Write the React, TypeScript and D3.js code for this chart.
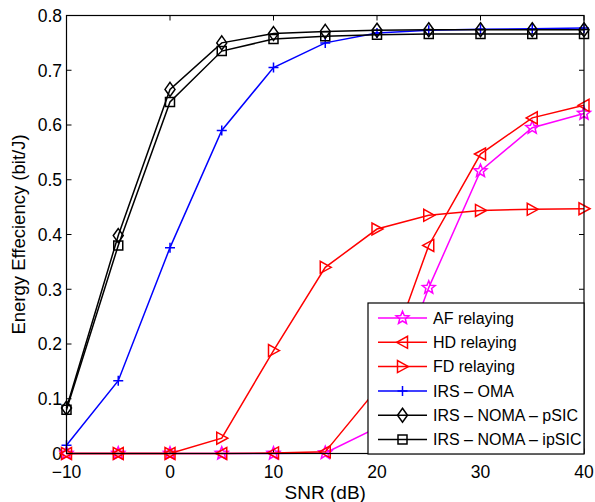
import React from "react";
import * as d3 from "d3";

const snr = [-10, -5, 0, 5, 10, 15, 20, 25, 30, 35, 40];
const afRelaying = [0, 0, 0, 0, 0, 0.001, 0.047, 0.303, 0.516, 0.595, 0.621];
const hdRelaying = [0, 0, 0, 0, 0.001, 0.003, 0.118, 0.38, 0.547, 0.613, 0.636];
const fdRelaying = [0, 0, 0, 0.028, 0.188, 0.34, 0.41, 0.435, 0.444, 0.446, 0.447];
const irsOma = [0.015, 0.133, 0.376, 0.59, 0.705, 0.75, 0.768, 0.773, 0.775, 0.776, 0.777];
const irsNomaP = [0.083, 0.398, 0.665, 0.75, 0.767, 0.771, 0.773, 0.774, 0.774, 0.774, 0.774];
const irsNomaIp = [0.08, 0.38, 0.642, 0.735, 0.757, 0.762, 0.765, 0.766, 0.766, 0.766, 0.766];

const xTicks = [-10, 0, 10, 20, 30, 40];
const yTicks = [0, 0.1, 0.2, 0.3, 0.4, 0.5, 0.6, 0.7, 0.8];

type Marker = "star" | "left" | "right" | "plus" | "diamond" | "square";

const series: { name: string; values: number[]; color: string; marker: Marker; width: number }[] = [
  { name: "AF relaying", values: afRelaying, color: "#ff00ff", marker: "star", width: 1.5 },
  { name: "HD relaying", values: hdRelaying, color: "#ff0000", marker: "left", width: 1.5 },
  { name: "FD relaying", values: fdRelaying, color: "#ff0000", marker: "right", width: 1.5 },
  { name: "IRS \u2013 OMA", values: irsOma, color: "#0000ff", marker: "plus", width: 1.5 },
  { name: "IRS \u2013 NOMA \u2013 pSIC", values: irsNomaP, color: "#000000", marker: "diamond", width: 1.5 },
  { name: "IRS \u2013 NOMA \u2013 ipSIC", values: irsNomaIp, color: "#000000", marker: "square", width: 1.5 },
];

const W = 595;
const H = 502;
const left = 66.5;
const right = 584;
const top = 15.5;
const bottom = 453.5;
const font = "'Liberation Sans', Arial, Helvetica, sans-serif";

// marker shapes, roughly MATLAB-sized
function markerPath(m: Marker): string {
  switch (m) {
    case "star": {
      const pts: string[] = [];
      for (let i = 0; i < 10; i++) {
        const r = i % 2 === 0 ? 6.8 : 3;
        const a = -Math.PI / 2 + (i * Math.PI) / 5;
        pts.push(`${(r * Math.cos(a)).toFixed(2)},${(r * Math.sin(a)).toFixed(2)}`);
      }
      return "M" + pts.join("L") + "Z";
    }
    case "left":
      return "M-6,0L5,-6L5,6Z";
    case "right":
      return "M6,0L-5,-6L-5,6Z";
    case "plus":
      return "M-5,0L5,0M0,-5L0,5";
    case "diamond":
      return "M0,-7L5,0L0,7L-5,0Z";
    case "square":
      return "M-4.5,-4.5L4.5,-4.5L4.5,4.5L-4.5,4.5Z";
  }
}

export default function App() {
  const x = d3.scaleLinear().domain([-10, 40]).range([left, right]);
  const y = d3.scaleLinear().domain([0, 0.8]).range([bottom, top]);
  const line = d3
    .line<number>()
    .x((_, i) => x(snr[i]))
    .y((d) => y(d));

  const legX = 368;
  const legY = 303;
  const legW = 216;
  const legH = 151;
  const rowH = 24.3;

  return (
    <svg width={W} height={H} style={{ position: "absolute", left: 0, top: 0, background: "#fff" }}>
      <rect x={0} y={0} width={W} height={H} fill="#fff" />
      {xTicks.map((t) => (
        <g key={"xt" + t}>
          <line x1={x(t)} x2={x(t)} y1={bottom} y2={bottom - 5} stroke="#000" strokeWidth={1} />
          <line x1={x(t)} x2={x(t)} y1={top} y2={top + 5} stroke="#000" strokeWidth={1} />
          <text x={x(t)} y={478} textAnchor="middle" fontFamily={font} fontSize={17.5}>
            {t < 0 ? "\u2212" + Math.abs(t) : t}
          </text>
        </g>
      ))}
      {yTicks.map((t) => (
        <g key={"yt" + t}>
          <line x1={left} x2={left + 5} y1={y(t)} y2={y(t)} stroke="#000" strokeWidth={1} />
          <line x1={right} x2={right - 5} y1={y(t)} y2={y(t)} stroke="#000" strokeWidth={1} />
          <text x={62} y={y(t)} dy="0.36em" textAnchor="end" fontFamily={font} fontSize={17.5}>
            {t === 0 ? "0" : t.toFixed(1)}
          </text>
        </g>
      ))}
      {series.map((s) => (
        <g key={s.name}>
          <path d={line(s.values) ?? ""} fill="none" stroke={s.color} strokeWidth={s.width} />
          {s.values.map((v, i) => (
            <path
              key={i}
              d={markerPath(s.marker)}
              transform={`translate(${x(snr[i])},${y(v)})`}
              fill="none"
              stroke={s.color}
              strokeWidth={1.5}
            />
          ))}
        </g>
      ))}
      <rect x={left} y={top} width={right - left} height={bottom - top} fill="none" stroke="#000" strokeWidth={1.2} />
      <text x={(left + right) / 2} y={499} textAnchor="middle" fontFamily={font} fontSize={19}>
        SNR (dB)
      </text>
      <text
        transform={`translate(25,${(top + bottom) / 2}) rotate(-90)`}
        textAnchor="middle"
        fontFamily={font}
        fontSize={18.5}
      >
        Energy Effeciency (bit/J)
      </text>
      <rect x={legX} y={legY} width={legW} height={legH} fill="#fff" stroke="#000" strokeWidth={1.2} />
      {series.map((s, i) => {
        const cy = legY + 15 + i * rowH;
        return (
          <g key={"leg" + s.name}>
            <line x1={378} x2={427} y1={cy} y2={cy} stroke={s.color} strokeWidth={s.width} />
            <path d={markerPath(s.marker)} transform={`translate(402.5,${cy})`} fill="none" stroke={s.color} strokeWidth={1.5} />
            <text x={433} y={cy} dy="0.36em" fontFamily={font} fontSize={16}>
              {s.name}
            </text>
          </g>
        );
      })}
    </svg>
  );
}
